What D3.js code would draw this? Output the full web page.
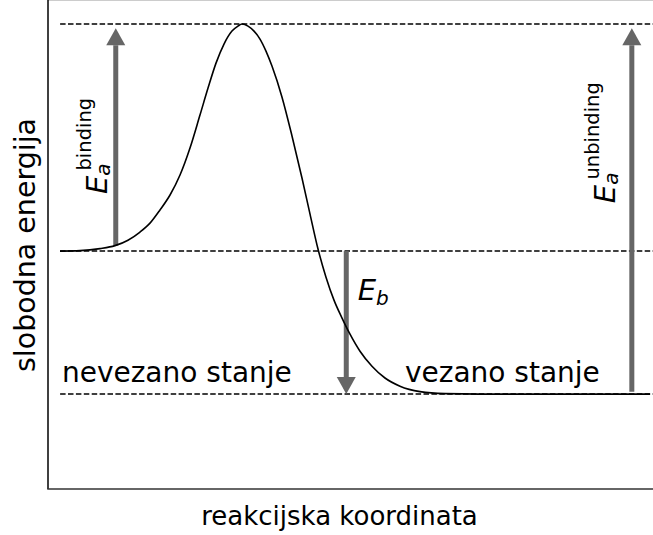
<!DOCTYPE html>
<html>
<head>
<meta charset="utf-8">
<script src="https://cdn.jsdelivr.net/npm/d3@7"></script>
<style>
  body { margin: 0; background: #fff; }
  text { font-family: "DejaVu Sans", sans-serif; fill: #000; }
</style>
</head>
<body>
<script>
"use strict";

// energy profile (reaction coordinate, free energy)
var curveX = [0.198, 0.529, 0.86, 1.107, 1.322, 1.521, 1.686, 1.851, 2.017, 2.182, 2.347, 2.512, 2.645, 2.777, 2.909, 3.041, 3.14, 3.207,
              3.306, 3.405, 3.504, 3.603, 3.702, 3.868, 4.033, 4.198, 4.331, 4.463, 4.595, 4.727, 4.86, 4.992, 5.157, 5.355, 5.57, 5.818,
              6.149, 6.562, 7.14, 8.463, 9.95];
var curveY = [0, 0.002, 0.011, 0.024, 0.048, 0.084, 0.123, 0.181, 0.247, 0.335, 0.454, 0.599, 0.718, 0.828, 0.912, 0.969, 0.991, 1.0,
              0.991, 0.969, 0.934, 0.881, 0.815, 0.678, 0.507, 0.322, 0.163, 0.009, -0.115, -0.216, -0.295, -0.366, -0.441, -0.507, -0.559, -0.595,
              -0.619, -0.628, -0.63, -0.63, -0.63];

var levels = [1.0, 0, -0.63];          // transition state, unbound, bound
var levelStart = 0.2;

var arrowX = [1.12, 4.93, 9.65];
var arrowFrom = [0.024, 0, -0.62];
var arrowTo = [0.982, -0.63, 0.982];

var stateLabels = ["nevezano stanje", "vezano stanje"];
var stateX = [0.23, 5.9];
var stateY = -0.577;

var width = 653;
var height = 535;

var x = d3.scaleLinear().domain([0, 10]).range([48, 653]);
var y = d3.scaleLinear().domain([-1.048, 1.106]).range([489, 0]);

var svg = d3.select("body").append("svg")
    .attr("width", width)
    .attr("height", height);

// dashed energy levels
svg.selectAll(".level")
    .data(levels)
    .enter()
      .append("line")
      .attr("class", "level")
      .attr("x1", x(levelStart))
      .attr("x2", x(10))
      .attr("y1", function (d) { return y(d); })
      .attr("y2", function (d) { return y(d); })
      .attr("stroke", "#000")
      .attr("stroke-width", 1.5)
      .attr("stroke-dasharray", "5.5,2.4");

// arrows
var arrows = svg.selectAll(".arrow")
    .data(arrowX.map(function (d, i) { return { x: d, from: arrowFrom[i], to: arrowTo[i] }; }))
    .enter()
      .append("g")
      .attr("class", "arrow");

var headLen = 17, headHalf = 9.5;

arrows.append("line")
    .attr("x1", function (d) { return x(d.x); })
    .attr("x2", function (d) { return x(d.x); })
    .attr("y1", function (d) { return y(d.from); })
    .attr("y2", function (d) {
        var dir = d.to > d.from ? 1 : -1;
        return y(d.to) + dir * headLen;
    })
    .attr("stroke", "#666")
    .attr("stroke-width", 5);

arrows.append("path")
    .attr("d", function (d) {
        var dir = d.to > d.from ? 1 : -1;
        var cx = x(d.x), ty = y(d.to), by = ty + dir * headLen;
        return "M" + cx + "," + ty + "L" + (cx - headHalf) + "," + by + "L" + (cx + headHalf) + "," + by + "Z";
    })
    .attr("fill", "#666");

// profile curve
var line = d3.line()
    .x(function (d, i) { return x(curveX[i]); })
    .y(function (d) { return y(d); })
    .curve(d3.curveMonotoneX);

svg.append("path")
    .datum(curveY)
    .attr("d", line)
    .attr("fill", "none")
    .attr("stroke", "#000")
    .attr("stroke-width", 1.6);

// spines
svg.append("line")
    .attr("x1", 48).attr("x2", 653).attr("y1", 0.5).attr("y2", 0.5)
    .attr("stroke", "#ccc").attr("stroke-width", 1);
svg.append("line")
    .attr("x1", 48).attr("x2", 48).attr("y1", 0).attr("y2", 489)
    .attr("stroke", "#000").attr("stroke-width", 1.5);
svg.append("line")
    .attr("x1", 47.25).attr("x2", 653).attr("y1", 489).attr("y2", 489)
    .attr("stroke", "#333").attr("stroke-width", 1.5);

// state labels
svg.selectAll(".state")
    .data(stateLabels)
    .enter()
      .append("text")
      .attr("class", "state")
      .attr("x", function (d, i) { return x(stateX[i]); })
      .attr("y", y(stateY))
      .style("font-size", "28px")
      .text(function (d) { return d; });

// energy labels, E with sub- and superscript stacked like mathtext
function energyLabel(tx, ty, sub, sup, rotate) {
    var t = svg.append("text")
        .attr("transform", "translate(" + tx + "," + ty + ")" + (rotate ? " rotate(-90)" : ""))
        .style("font-size", "29px");
    t.append("tspan").style("font-style", "italic").text("E");
    t.append("tspan").style("font-style", "italic").style("font-size", "20px")
        .attr("dy", sup ? 3 : 5).text(sub);
    if (sup) {
        t.append("tspan").style("font-size", "19.5px")
            .attr("dx", -7).attr("dy", -19).text(sup);
    }
}

energyLabel(x(0.975), y(0.251), "a", "binding", true);
energyLabel(x(9.37), y(0.211), "a", "unbinding", true);
energyLabel(x(5.12), y(-0.216), "b", null, false);

// axis titles
svg.append("text")
    .attr("x", 339.5)
    .attr("y", 525)
    .attr("text-anchor", "middle")
    .style("font-size", "26px")
    .text("reakcijska koordinata");

svg.append("text")
    .attr("transform", "translate(35,245) rotate(-90)")
    .attr("text-anchor", "middle")
    .style("font-size", "28.5px")
    .text("slobodna energija");
</script>
</body>
</html>
